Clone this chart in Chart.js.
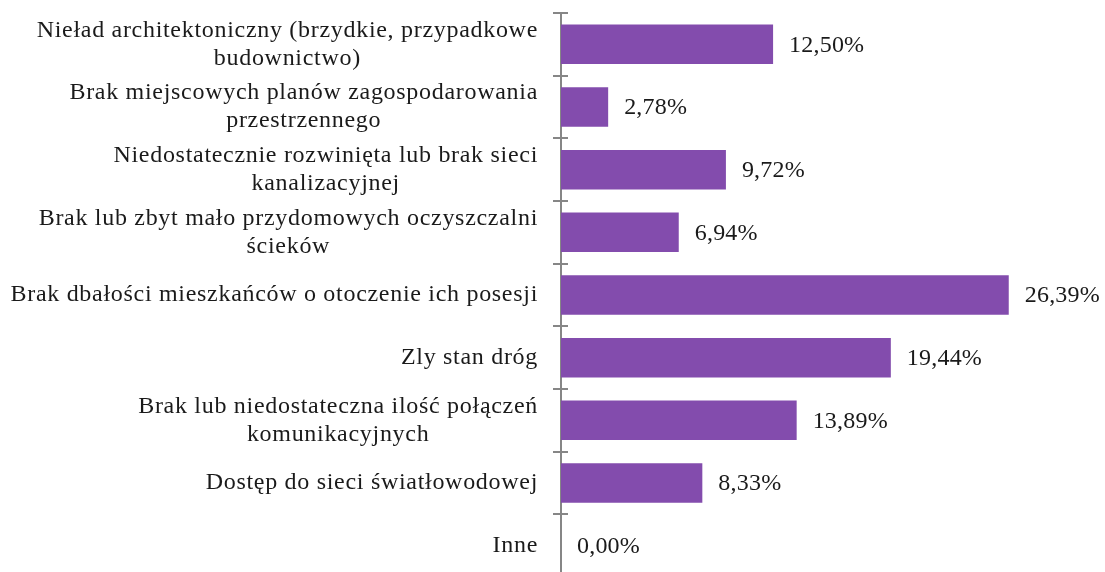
<!DOCTYPE html>
<html>
<head>
<meta charset="utf-8">
<script src="https://cdn.jsdelivr.net/npm/chart.js@4.4.1/dist/chart.umd.min.js"></script>
<style>
  html, body { margin: 0; padding: 0; background: #fff; overflow: hidden; }
  #wrap { width: 1105px; height: 572px; overflow: hidden; }
</style>
</head>
<body>
<div id="wrap"><canvas id="canvas" width="1105" height="578"></canvas></div>
<script>
const categories = [
  ['Nieład architektoniczny (brzydkie, przypadkowe', 'budownictwo)'],
  ['Brak miejscowych planów zagospodarowania', 'przestrzennego'],
  ['Niedostatecznie rozwinięta lub brak sieci', 'kanalizacyjnej'],
  ['Brak lub zbyt mało przydomowych oczyszczalni', 'ścieków'],
  ['Brak dbałości mieszkańców o otoczenie ich posesji'],
  ['Zly stan dróg'],
  ['Brak lub niedostateczna ilość połączeń', 'komunikacyjnych'],
  ['Dostęp do sieci światłowodowej'],
  ['Inne']
]
const values = [12.50, 2.78, 9.72, 6.94, 26.39, 19.44, 13.89, 8.33, 0.00]

const FONT = '24px "Liberation Serif", "DejaVu Serif", serif'
const TEXT = '#1a1a1a'
const AXIS = '#868686'

// category labels: block right-aligned to the axis, lines centred inside the block
const labelPlugin = {
  id: 'labels',
  afterDraw(chart) {
    const ctx = chart.ctx
    const y = chart.scales.y
    ctx.save()
    ctx.font = FONT
    ctx.letterSpacing = '0.7px'
    ctx.fillStyle = TEXT
    ctx.textAlign = 'center'
    ctx.textBaseline = 'middle'
    const lineH = 28
    categories.forEach((lines, i) => {
      const cy = y.getPixelForValue(i)
      const w = Math.max(...lines.map(l => ctx.measureText(l).width))
      const cx = y.right - 23 - w / 2
      lines.forEach((l, k) => {
        ctx.fillText(l, cx, cy + (k - (lines.length - 1) / 2) * lineH)
      })
    })

    // axis tick marks between categories, crossing the axis line
    const step = y.getPixelForValue(1) - y.getPixelForValue(0)
    ctx.strokeStyle = AXIS
    ctx.lineWidth = 2
    for (let i = 0; i <= categories.length; i++) {
      const ty = Math.round(y.getPixelForValue(i) - step / 2)
      ctx.beginPath()
      ctx.moveTo(y.right - 8, ty)
      ctx.lineTo(y.right + 7, ty)
      ctx.stroke()
    }

    // value labels next to the bars
    ctx.textAlign = 'left'
    ctx.letterSpacing = '0.2px'
    const meta = chart.getDatasetMeta(0)
    meta.data.forEach((bar, i) => {
      const txt = values[i].toFixed(2).replace('.', ',') + '%'
      ctx.fillText(txt, bar.x + 16, bar.y + 1)
    })
    ctx.restore()
  }
}

new Chart(document.getElementById('canvas'), {
  type: 'bar',
  data: {
    labels: categories,
    datasets: [{
      data: values,
      backgroundColor: '#834cad',
      borderWidth: 0,
      barPercentage: 0.63,
      categoryPercentage: 1
    }]
  },
  options: {
    indexAxis: 'y',
    responsive: false,
    animation: false,
    layout: { padding: { top: 13, bottom: 1, right: 35, left: 0 } },
    plugins: { legend: { display: false }, tooltip: { enabled: false } },
    scales: {
      x: { display: false, min: 0, max: 30 },
      y: {
        afterFit(scale) { scale.width = 561 },
        border: { display: true, color: AXIS, width: 2 },
        grid: { display: false },
        ticks: { display: false }
      }
    }
  },
  plugins: [labelPlugin]
})
</script>
</body>
</html>
